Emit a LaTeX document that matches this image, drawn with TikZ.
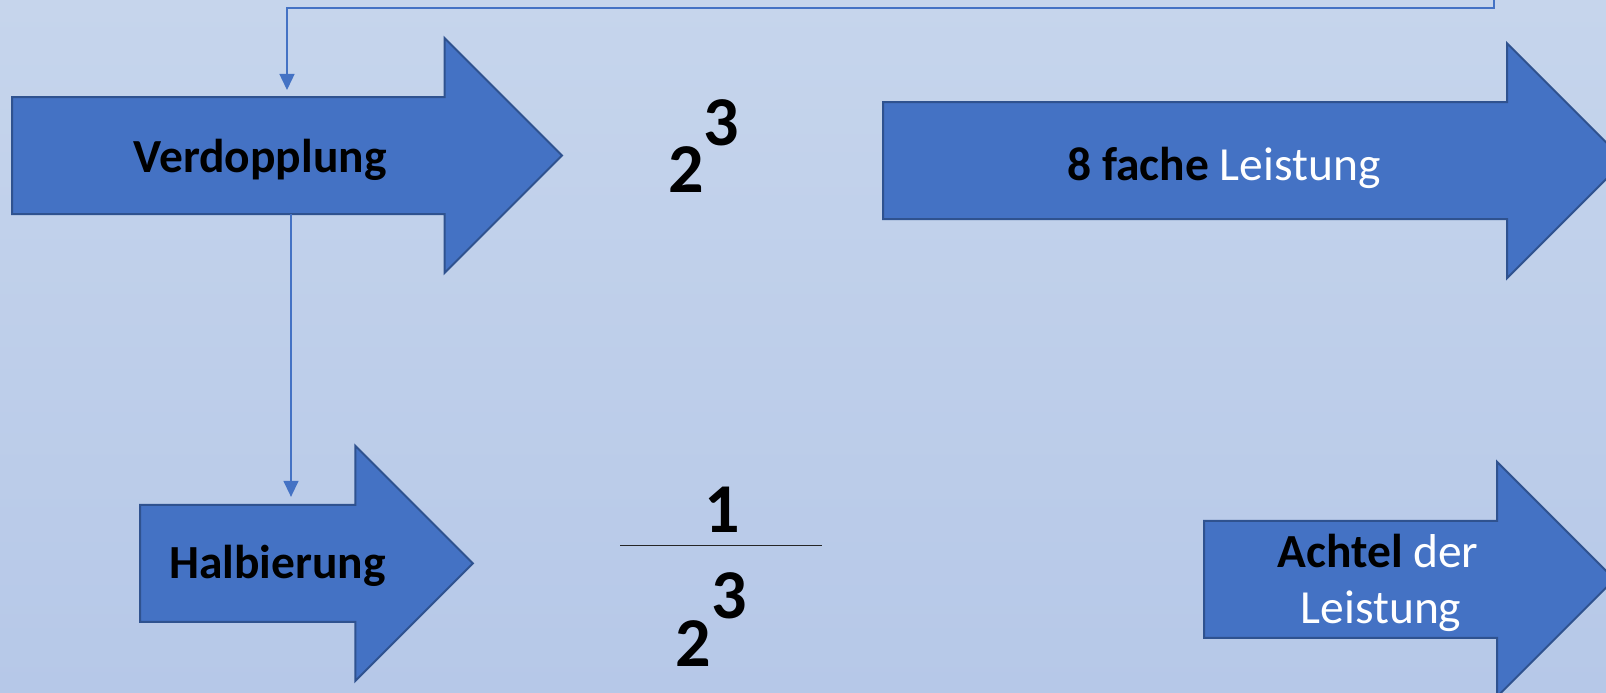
\documentclass[tikz,border=0pt]{standalone}
\usepackage{fontspec}
\setmainfont{Carlito}
\usetikzlibrary{calc,arrows.meta}

\definecolor{bgtop}{HTML}{C6D5EC}
\definecolor{bgmid}{HTML}{AABEE5}
\definecolor{bgbot}{HTML}{B6C8E8}
\definecolor{arrowfill}{HTML}{4472C4}
\definecolor{arrowedge}{HTML}{2F528F}
\definecolor{linkblue}{HTML}{4472C4}

% Outline of a block arrow built on a named shaft node
\newcommand{\blockarrowoutline}[1]{%
  \draw[arrowline] (#1.south west) -- (#1.north west) -- (#1.north east)
    -- ++(0,-59) -- ($(#1.east)+(117.5,0)$) -- ($(#1.south east)+(0,59)$)
    -- (#1.south east) -- cycle;}

\tikzset{
  shaft/.style={rectangle, draw=none, inner sep=0pt, outer sep=0pt, minimum height=117pt},
  arrowline/.style={fill=arrowfill, draw=arrowedge, line width=2pt, line join=miter},
  lbl/.style={inner sep=0pt, font=\fontsize{47.5}{57}\selectfont},
  bignum/.style={inner sep=0pt, font=\fontsize{70}{84}\selectfont\bfseries},
  link/.style={draw=linkblue, line width=1.4pt, -{Triangle[length=16pt,width=15pt]}},
  fracline/.style={draw=black!85, line width=1.5pt}
}

\begin{document}
\begin{tikzpicture}[x=1pt,y=-1pt]
  \useasboundingbox (0,0) rectangle (1606,693);
  \shade[top color=bgtop, middle color=bgmid, bottom color=bgbot] (0,0) rectangle (1606,693);

  \begin{scope}
    \clip (0,0) rectangle (1606,693);

    % shafts of the four block arrows
    \node[shaft, minimum width=432.5pt] (verd) at (228.25,155.5) {};
    \node[shaft, minimum width=215.4pt] (halb) at (247.7,563.35) {};
    \node[shaft, minimum width=624pt]   (acht) at (1195,160.7) {};
    \node[shaft, minimum width=293pt]   (eighth) at (1350.5,579.25) {};

    \blockarrowoutline{verd}
    \blockarrowoutline{halb}
    \blockarrowoutline{acht}
    \blockarrowoutline{eighth}

    % labels
    \node[lbl, anchor=base] (verdText) at (260,172) {\textbf{Verdopplung}};
    \node[lbl, anchor=base] (halbText) at (277.5,578) {\textbf{Halbierung}};
    \node[lbl, anchor=base] (achtText) at (1224,180) {\textbf{8 fache} \textcolor{white}{Leistung}};
    \node[lbl, anchor=base] (eighthTextA) at (1378,567) {\textbf{Achtel} \textcolor{white}{der}};
    \node[lbl, anchor=base] (eighthTextB) at (1381,623) {\textcolor{white}{Leistung}};

    % power of two
    \node[bignum, anchor=base] (powBase) at (686,192) {2};
    \node[bignum, anchor=base] (powExp) at (721.5,145) {3};

    % reciprocal
    \node[bignum, anchor=base] (fracNum) at (722.5,532) {1};
    \draw[fracline] (620,545.7) -- (822,545.7);
    \node[bignum, anchor=base] (fracExp) at (729,618) {3};
    \node[bignum, anchor=base] (fracBase) at (693,666) {2};

    % connectors
    \coordinate (feed) at (1494,-4);
    \coordinate (bend) at (287,8);
    \draw[link, shorten >=7pt] (feed) |- (bend) -- (bend |- verd.north);
    \coordinate (drop) at ($(verd.south west)+(279,0)$);
    \draw[link, shorten >=8pt] (drop) -- (drop |- halb.north);
  \end{scope}
\end{tikzpicture}
\end{document}
